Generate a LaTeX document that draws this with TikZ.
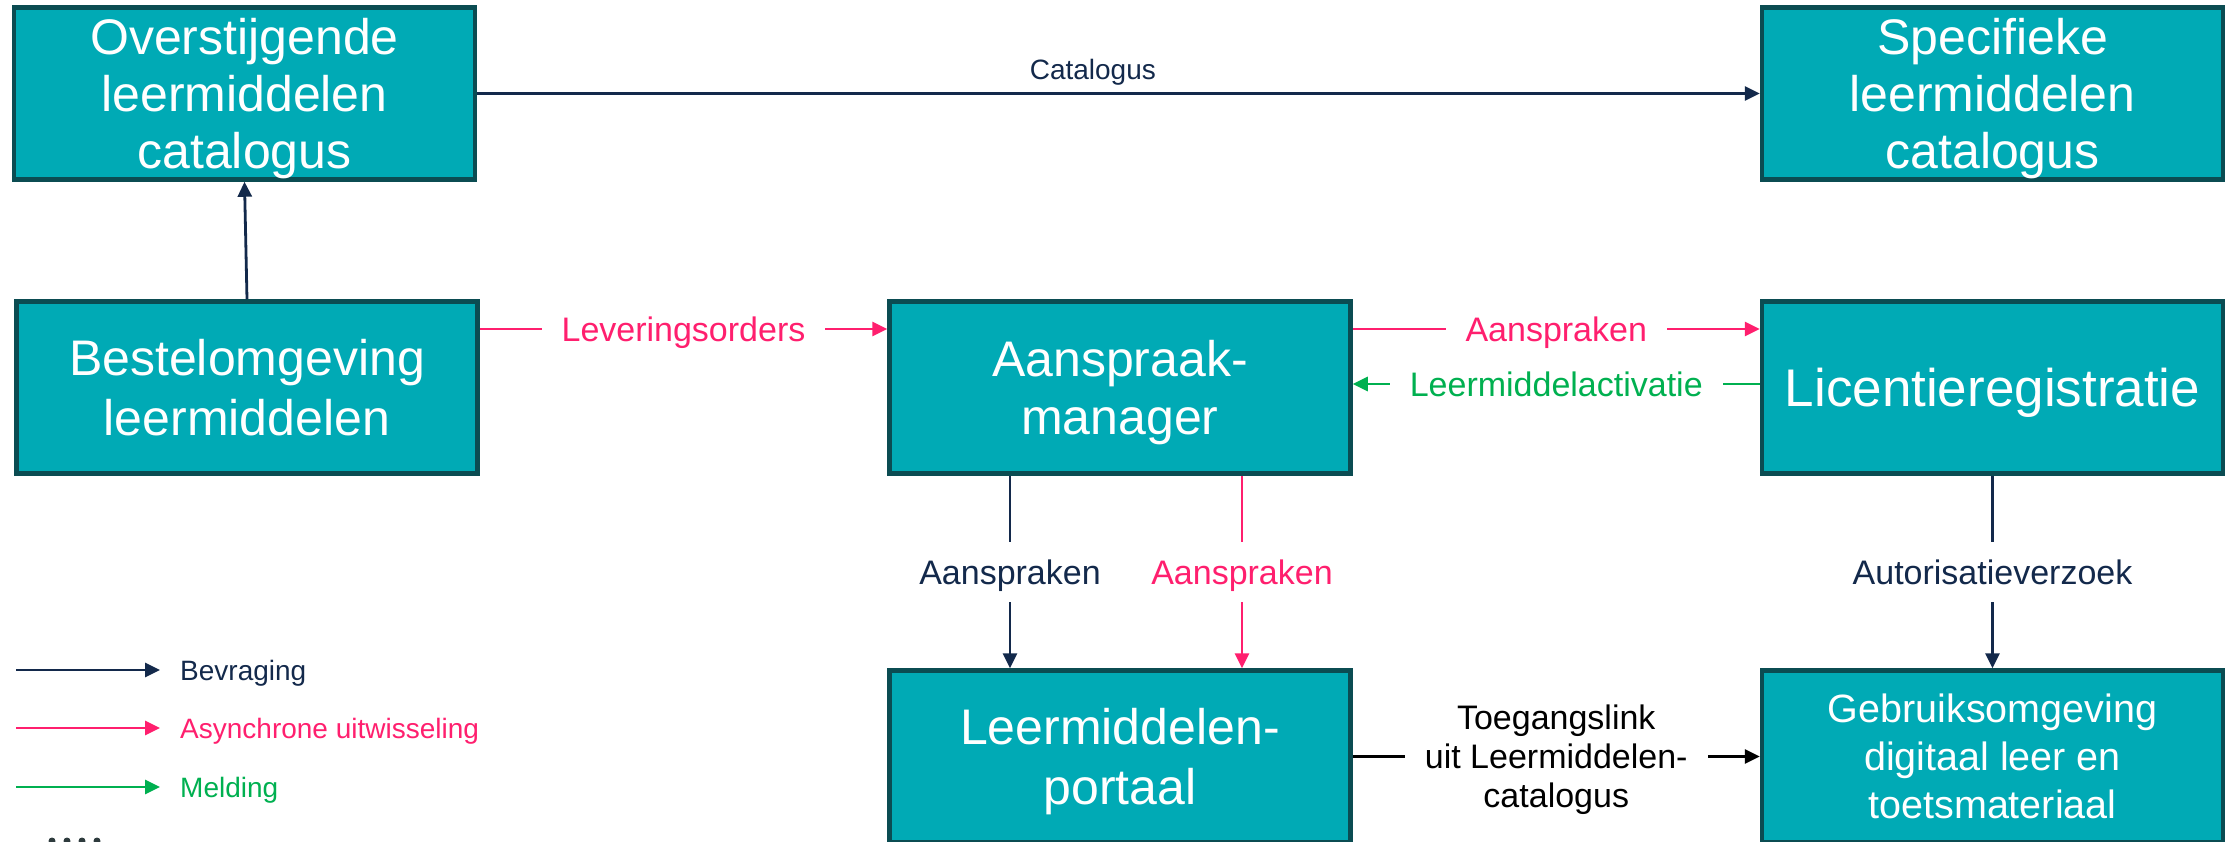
\documentclass[tikz,border=0pt]{standalone}
\usepackage{fontspec}
\setmainfont{Liberation Sans}
\usetikzlibrary{arrows.meta}
\definecolor{tealfill}{HTML}{00AAB5}
\definecolor{tealedge}{HTML}{0B4C52}
\definecolor{navy}{HTML}{13294B}
\definecolor{pinkc}{HTML}{FF1F6E}
\definecolor{greenc}{HTML}{00B050}
\definecolor{dotc}{HTML}{2E3B3D}
\begin{document}
\begin{tikzpicture}[x=1pt,y=-1pt,
  box/.style={draw=tealedge, line width=4.5pt, fill=tealfill, text=white,
    minimum width=461pt, minimum height=172pt, inner sep=0pt, align=center,
    text depth=0pt, font=\fontsize{50}{57}\selectfont},
  conn/.style={line width=2.8pt, -{Triangle[length=15pt,width=14pt]}},
  labbase/.style={fill=white, inner xsep=20pt, font=\fontsize{34}{40}\selectfont},
  lab/.style={labbase, inner ysep=18pt, text height=24.3pt, text depth=0pt},
  leg/.style={anchor=base west, inner sep=0pt, font=\fontsize{28}{34}\selectfont},
]
\useasboundingbox (0,0) rectangle (2231,842);
\clip (0,0) rectangle (2231,842);

\node[box] (ov) at (244.5,93.5) {Overstijgende\\leermiddelen\\catalogus};
\node[box] (sp) at (1992.5,93.5) {Specifieke\\leermiddelen\\catalogus};
\node[box, font=\fontsize{50}{60}\selectfont] (be) at (247,387.5) {Bestelomgeving\\leermiddelen};
\node[box, font=\fontsize{50}{58}\selectfont] (am) at (1120,387.5) {Aanspraak-\\manager};
\node[box, font=\fontsize{53}{60}\selectfont] (li) at (1992.5,387.5) {Licentieregistratie};
\node[box, font=\fontsize{50}{60}\selectfont] (lp) at (1120,756.5) {Leermiddelen-\\portaal};
\node[box, font=\fontsize{39.5}{48}\selectfont] (ge) at (1992.5,756.5) {Gebruiksomgeving\\digitaal leer en\\toetsmateriaal};

\draw[conn, navy] (ov.east) -- node[pos=0.48, above=7pt, inner sep=0pt, font=\fontsize{28}{34}\selectfont] (lc) {Catalogus} (sp.west);
\draw[conn, navy] (be.north) -- (ov.south);
\draw[conn, pinkc] ([yshift=58.5pt]be.east) -- node[lab] (l1) {Leveringsorders} ([yshift=58.5pt]am.west);
\draw[conn, pinkc] ([yshift=58.5pt]am.east) -- node[lab] (l2) {Aanspraken} ([yshift=58.5pt]li.west);
\draw[conn, greenc] ([yshift=3.5pt]li.west) -- node[lab] (l3) {Leermiddelactivatie} ([yshift=3.5pt]am.east);
\draw[conn, navy] ([xshift=-110pt]am.south) -- node[lab] (l4) {Aanspraken} ([xshift=-110pt]lp.north);
\draw[conn, pinkc] ([xshift=122pt]am.south) -- node[lab] (l5) {Aanspraken} ([xshift=122pt]lp.north);
\draw[conn, navy] (li.south) -- node[lab] (l6) {Autorisatieverzoek} (ge.north);
\draw[conn, black] (lp.east) -- node[labbase, inner ysep=4pt, yshift=-3pt, align=center, font=\fontsize{34}{39}\selectfont] (l7) {Toegangslink\\uit Leermiddelen-\\catalogus} (ge.west);

% legend
\coordinate (a1s) at (16,670); \coordinate (a1e) at (160,670);
\coordinate (a2s) at (16,728); \coordinate (a2e) at (160,728);
\coordinate (a3s) at (16,787); \coordinate (a3e) at (160,787);
\draw[conn, navy] (a1s) -- (a1e);
\draw[conn, pinkc] (a2s) -- (a2e);
\draw[conn, greenc] (a3s) -- (a3e);
\node[leg, text=navy] (g1) at (180,680) {Bevraging};
\node[leg, text=pinkc] (g2) at (180,738) {Asynchrone uitwisseling};
\node[leg, text=greenc] (g3) at (180,797) {Melding};
\foreach \x in {52,67,82,97} \fill[dotc] (\x,841) circle (3.5);
\end{tikzpicture}
\end{document}
